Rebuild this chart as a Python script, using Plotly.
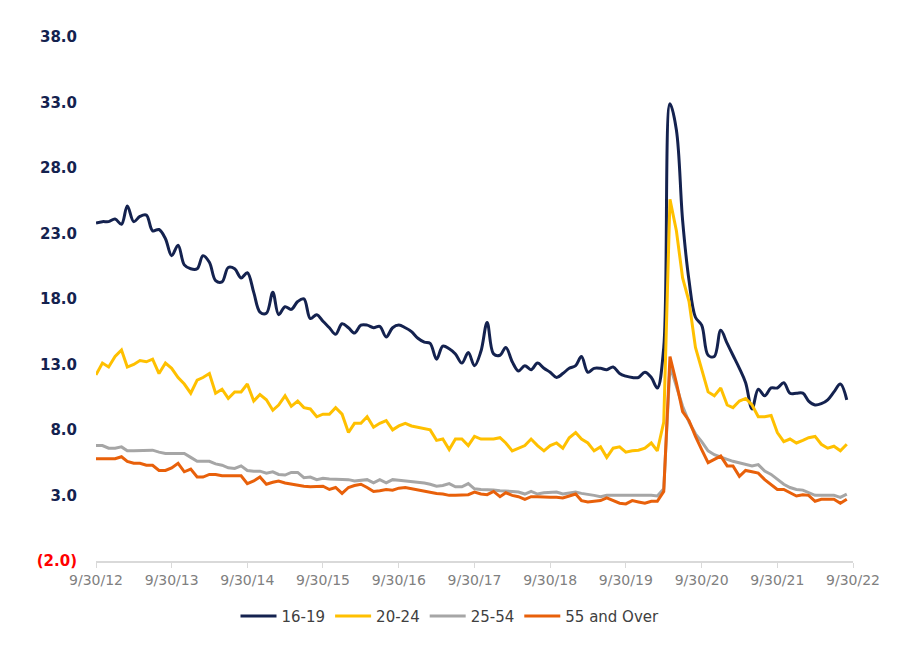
import pandas as pd
import plotly.graph_objects as go

# Monthly unemployment rate by age group, Sep 2012 - Aug 2022
dates = pd.date_range("2012-09-30", periods=120, freq="ME")

age_16_19 = [
    23.8, 23.9, 23.9, 24.1, 23.7, 25.1, 23.9, 24.3, 24.4, 23.2,
    23.3, 22.6, 21.3, 22.1, 20.6, 20.3, 20.3, 21.3, 20.8, 19.4,
    19.3, 20.4, 20.3, 19.6, 20.0, 18.5, 17.0, 16.9, 18.5, 16.8,
    17.4, 17.2, 17.8, 18.0, 16.5, 16.8, 16.3, 15.8, 15.3, 16.1,
    15.8, 15.4, 16.0, 16.0, 15.8, 15.9, 15.1, 15.8, 16.0, 15.8,
    15.5, 15.0, 14.7, 14.6, 13.4, 14.4, 14.2, 13.8, 13.1, 13.9,
    12.9, 14.0, 16.2, 13.8, 13.7, 14.3, 13.2, 12.5, 12.9, 12.6,
    13.1, 12.7, 12.4, 12.0, 12.3, 12.7, 12.9, 13.6, 12.4, 12.7,
    12.7, 12.6, 12.8, 12.3, 12.1, 12.0, 12.0, 12.4, 12.0, 11.2,
    14.3, 32.9, 30.9, 24.0, 19.4, 16.6, 16.0, 13.7, 13.6, 15.6,
    14.6, 13.7, 12.7, 11.6, 9.6, 11.1, 10.6, 11.2, 11.2, 11.6,
    10.8, 10.8, 10.8, 10.2, 9.9, 10.0, 10.3, 10.9, 11.5, 10.3,
]

age_20_24 = [
    12.2, 13.1, 12.8, 13.6, 14.1, 12.8, 13.0, 13.3, 13.2, 13.4,
    12.3, 13.1, 12.7, 12.0, 11.5, 10.8, 11.8, 12.0, 12.3, 10.8,
    11.1, 10.4, 10.9, 10.9, 11.5, 10.2, 10.7, 10.3, 9.5, 9.9,
    10.6, 9.8, 10.2, 9.7, 9.6, 9.0, 9.2, 9.2, 9.7, 9.2,
    7.8, 8.5, 8.5, 9.0, 8.2, 8.5, 8.7, 8.0, 8.3, 8.5,
    8.3, 8.2, 8.1, 8.0, 7.2, 7.3, 6.5, 7.3, 7.3, 6.8,
    7.5, 7.3, 7.3, 7.3, 7.4, 7.0, 6.4, 6.6, 6.8, 7.3,
    6.8, 6.4, 6.8, 7.0, 6.6, 7.4, 7.8, 7.3, 7.0, 6.4,
    6.7, 5.9, 6.6, 6.7, 6.3, 6.4, 6.45, 6.6, 7.0, 6.4,
    8.6, 25.6, 23.2, 19.6, 17.8, 14.3, 12.7, 10.9, 10.6, 11.2,
    9.9, 9.7, 10.2, 10.4, 9.9, 9.0, 9.0, 9.1, 7.8, 7.1,
    7.3, 7.0, 7.2, 7.4, 7.5, 6.9, 6.6, 6.75, 6.4, 6.9,
]

age_25_54 = [
    6.8, 6.8, 6.6, 6.6, 6.7, 6.4, 6.4, 6.4, 6.4, 6.45,
    6.3, 6.2, 6.2, 6.2, 6.2, 5.9, 5.6, 5.6, 5.6, 5.4,
    5.3, 5.1, 5.05, 5.25, 4.9, 4.85, 4.85, 4.7, 4.8, 4.6,
    4.55, 4.75, 4.75, 4.35, 4.4, 4.2, 4.3, 4.25, 4.25, 4.25,
    4.2, 4.1, 4.15, 4.2, 3.95, 4.2, 3.95, 4.2, 4.15, 4.1,
    4.0, 4.0, 3.95, 3.85, 3.7, 3.75, 3.9, 3.65, 3.65, 3.9,
    3.5, 3.45, 3.45, 3.4, 3.35, 3.35, 3.3, 3.25, 3.1, 3.3,
    3.1, 3.2, 3.25, 3.25, 3.1, 3.2, 3.25, 3.15, 3.1, 3.0,
    2.9, 3.0, 3.0, 3.0, 3.0, 3.05, 3.05, 3.05, 3.0, 2.95,
    3.5, 12.9, 11.4, 9.8, 8.6, 7.7, 7.1, 6.4, 6.1, 5.95,
    5.75, 5.6, 5.5, 5.35, 5.25, 5.35, 4.85, 4.6, 4.2, 3.85,
    3.6, 3.45, 3.4, 3.2, 3.0, 3.0, 3.0, 3.0, 2.85, 3.1,
]

age_55_over = [
    5.8, 5.8, 5.75, 5.8, 5.95, 5.6, 5.45, 5.45, 5.3, 5.3,
    4.9, 4.9, 5.1, 5.45, 4.8, 5.0, 4.4, 4.4, 4.6, 4.6,
    4.5, 4.5, 4.5, 4.5, 3.9, 4.1, 4.4, 3.85, 4.0, 4.1,
    3.95, 3.85, 3.8, 3.7, 3.65, 3.7, 3.7, 3.45, 3.6, 3.15,
    3.6, 3.75, 3.85, 3.6, 3.3, 3.35, 3.45, 3.4, 3.55, 3.6,
    3.5, 3.45, 3.35, 3.25, 3.15, 3.1, 3.0, 3.0, 3.0, 3.05,
    3.25, 3.1, 3.05, 3.3, 2.9, 3.2, 3.0, 2.9, 2.7, 2.9,
    2.9, 2.85, 2.85, 2.85, 2.8, 2.95, 3.1, 2.6, 2.5, 2.55,
    2.6, 2.8, 2.6, 2.4, 2.35, 2.6, 2.5, 2.4, 2.55, 2.55,
    3.3, 13.6, 11.6, 9.4, 8.7, 7.5, 6.5, 5.5, 5.75, 6.0,
    5.25, 5.25, 4.45, 4.9, 4.8, 4.7, 4.2, 3.85, 3.45, 3.45,
    3.2, 2.95, 3.05, 3.0, 2.55, 2.7, 2.7, 2.7, 2.4, 2.7,
]

# Axis ticks
x_tick_dates = pd.to_datetime([f"{y}-09-30" for y in range(2012, 2023)])
x_tick_text = [f"9/30/{y % 100}" for y in range(2012, 2023)]
y_tick_vals = [-2, 3, 8, 13, 18, 23, 28, 33, 38]
y_tick_text = ['<span style="color:#ff0000">(2.0)</span>'] + [f"{v:.1f}" for v in y_tick_vals[1:]]

series = [
    ("16-19", age_16_19, "#14224f", "spline"),
    ("20-24", age_20_24, "#ffc000", "linear"),
    ("25-54", age_25_54, "#a6a6a6", "linear"),
    ("55 and Over", age_55_over, "#e8600a", "linear"),
]

fig = go.Figure()
for name, values, color, shape in series:
    fig.add_trace(go.Scatter(
        x=dates,
        y=values,
        name=name,
        mode="lines",
        line=dict(color=color, width=3, shape=shape),
    ))

fig.update_layout(
    width=900,
    height=652,
    paper_bgcolor="white",
    plot_bgcolor="white",
    margin=dict(l=96, r=47, t=37, b=90),
    font=dict(family="DejaVu Sans", color="#404040"),
    showlegend=True,
    legend=dict(
        orientation="h",
        xref="container", yref="container",
        x=0.5, xanchor="center",
        y=0.055, yanchor="middle",
        font=dict(size=15, color="#404040"),
        itemwidth=36,
    ),
    xaxis=dict(
        range=[x_tick_dates[0], x_tick_dates[-1]],
        tickvals=x_tick_dates,
        ticktext=x_tick_text,
        showgrid=False,
        zeroline=False,
        showline=True,
        linecolor="#d9d9d9",
        linewidth=2,
        ticks="outside",
        ticklen=5,
        tickcolor="#d9d9d9",
        tickfont=dict(size=14, color="#808080"),
    ),
    yaxis=dict(
        range=[-2, 38],
        tickvals=y_tick_vals,
        ticktext=y_tick_text,
        showgrid=False,
        zeroline=False,
        showline=False,
        ticks="",
        ticklabelstandoff=18,
        tickfont=dict(size=15, color="#14224f", weight="bold"),
    ),
)

# page body has a default 8px margin; remove it so the figure sits at the window origin
fig.write_html(
    "out.html",
    config={"displayModeBar": False},
    post_script="document.body.style.margin='0';",
)
